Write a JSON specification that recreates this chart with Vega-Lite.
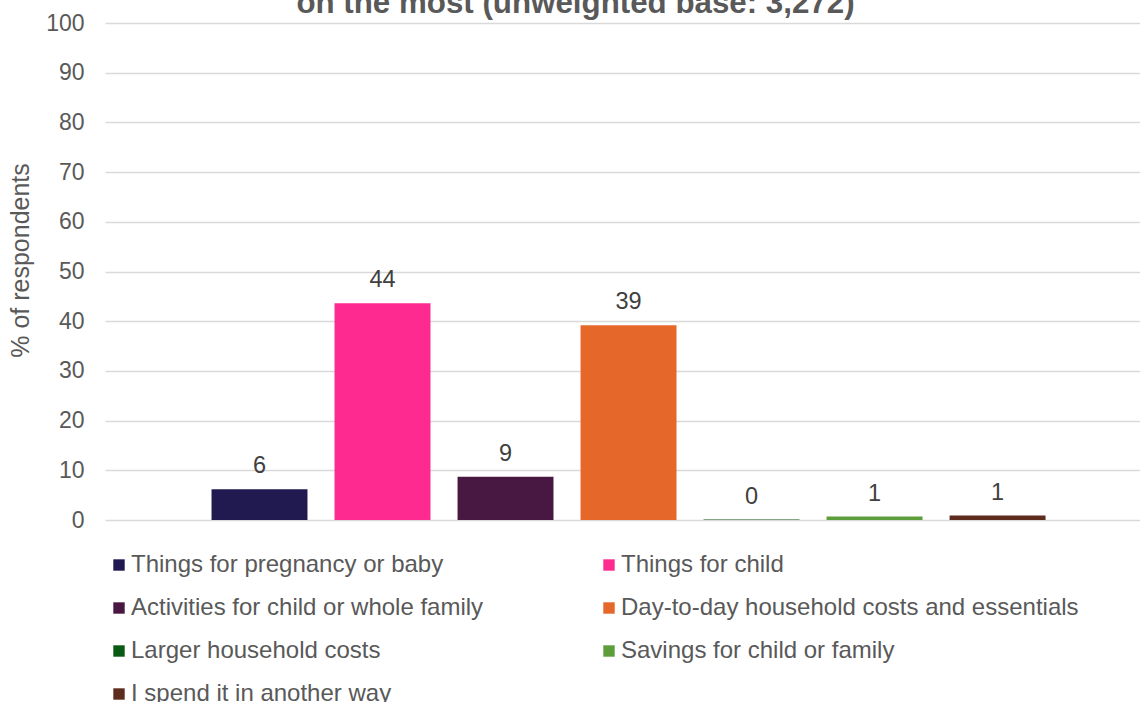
{
  "$schema": "https://vega.github.io/schema/vega-lite/v6.json",
  "autosize": {"type": "none"},
  "padding": {"left": 105, "top": 23, "right": 0, "bottom": 182},
  "width": 1035,
  "height": 497,
  "background": "white",
  "config": {
    "font": "Liberation Sans",
    "view": {"stroke": null}
  },
  "title": {
    "text": "on the most (unweighted base: 3,272)",
    "font": "Liberation Sans",
    "fontSize": 31.3,
    "fontWeight": "bold",
    "color": "#595959",
    "anchor": "middle",
    "frame": "group",
    "baseline": "alphabetic",
    "offset": 0,
    "dx": -47,
    "dy": 32
  },
  "data": {
    "values": [
      {"category": "Things for pregnancy or baby", "value": 6.2},
      {"category": "Things for child", "value": 43.6},
      {"category": "Activities for child or whole family", "value": 8.7},
      {"category": "Day-to-day household costs and essentials", "value": 39.2},
      {"category": "Larger household costs", "value": 0.1},
      {"category": "Savings for child or family", "value": 0.7},
      {"category": "I spend it in another way", "value": 0.9}
    ]
  },
  "encoding": {
    "x": {
      "field": "category",
      "type": "nominal",
      "sort": null,
      "axis": null,
      "scale": {"paddingInner": 0.22, "paddingOuter": 0.817, "align": 0.53}
    },
    "y": {
      "field": "value",
      "type": "quantitative",
      "scale": {"domain": [0, 100], "nice": false},
      "axis": {
        "title": "% of respondents",
        "titleFont": "Liberation Sans",
        "titleFontSize": 25,
        "titleFontWeight": "normal",
        "titleColor": "#595959",
        "titlePadding": 12,
        "titleY": 237,
        "values": [0, 10, 20, 30, 40, 50, 60, 70, 80, 90, 100],
        "labelFontSize": 23,
        "labelColor": "#595959",
        "labelPadding": 21,
        "ticks": false,
        "domain": false,
        "gridColor": "#d9d9d9",
        "gridWidth": 1.3
      }
    }
  },
  "layer": [
    {
      "mark": {"type": "bar"},
      "encoding": {
        "color": {
          "field": "category",
          "type": "nominal",
          "sort": null,
          "scale": {
            "domain": ["Things for pregnancy or baby", "Things for child", "Activities for child or whole family", "Day-to-day household costs and essentials", "Larger household costs", "Savings for child or family", "I spend it in another way"],
            "range": ["#201A50", "#FF2A8F", "#481842", "#E5672A", "#0B5A14", "#5B9E3A", "#5E2B1F"]
          },
          "legend": {
            "title": null,
            "orient": "none",
            "legendX": 2,
            "legendY": 530,
            "columns": 2,
            "direction": "horizontal",
            "columnPadding": 113,
            "rowPadding": 19,
            "symbolType": "square",
            "symbolSize": 130,
            "symbolStrokeWidth": 0,
            "labelFontSize": 24,
            "labelColor": "#595959",
            "labelOffset": 0,
            "labelLimit": 700
          }
        }
      }
    },
    {
      "mark": {"type": "text", "baseline": "alphabetic", "dy": -16, "fontSize": 23.5, "color": "#404040"},
      "encoding": {
        "text": {"field": "value", "type": "quantitative", "format": ".0f"}
      }
    }
  ]
}
